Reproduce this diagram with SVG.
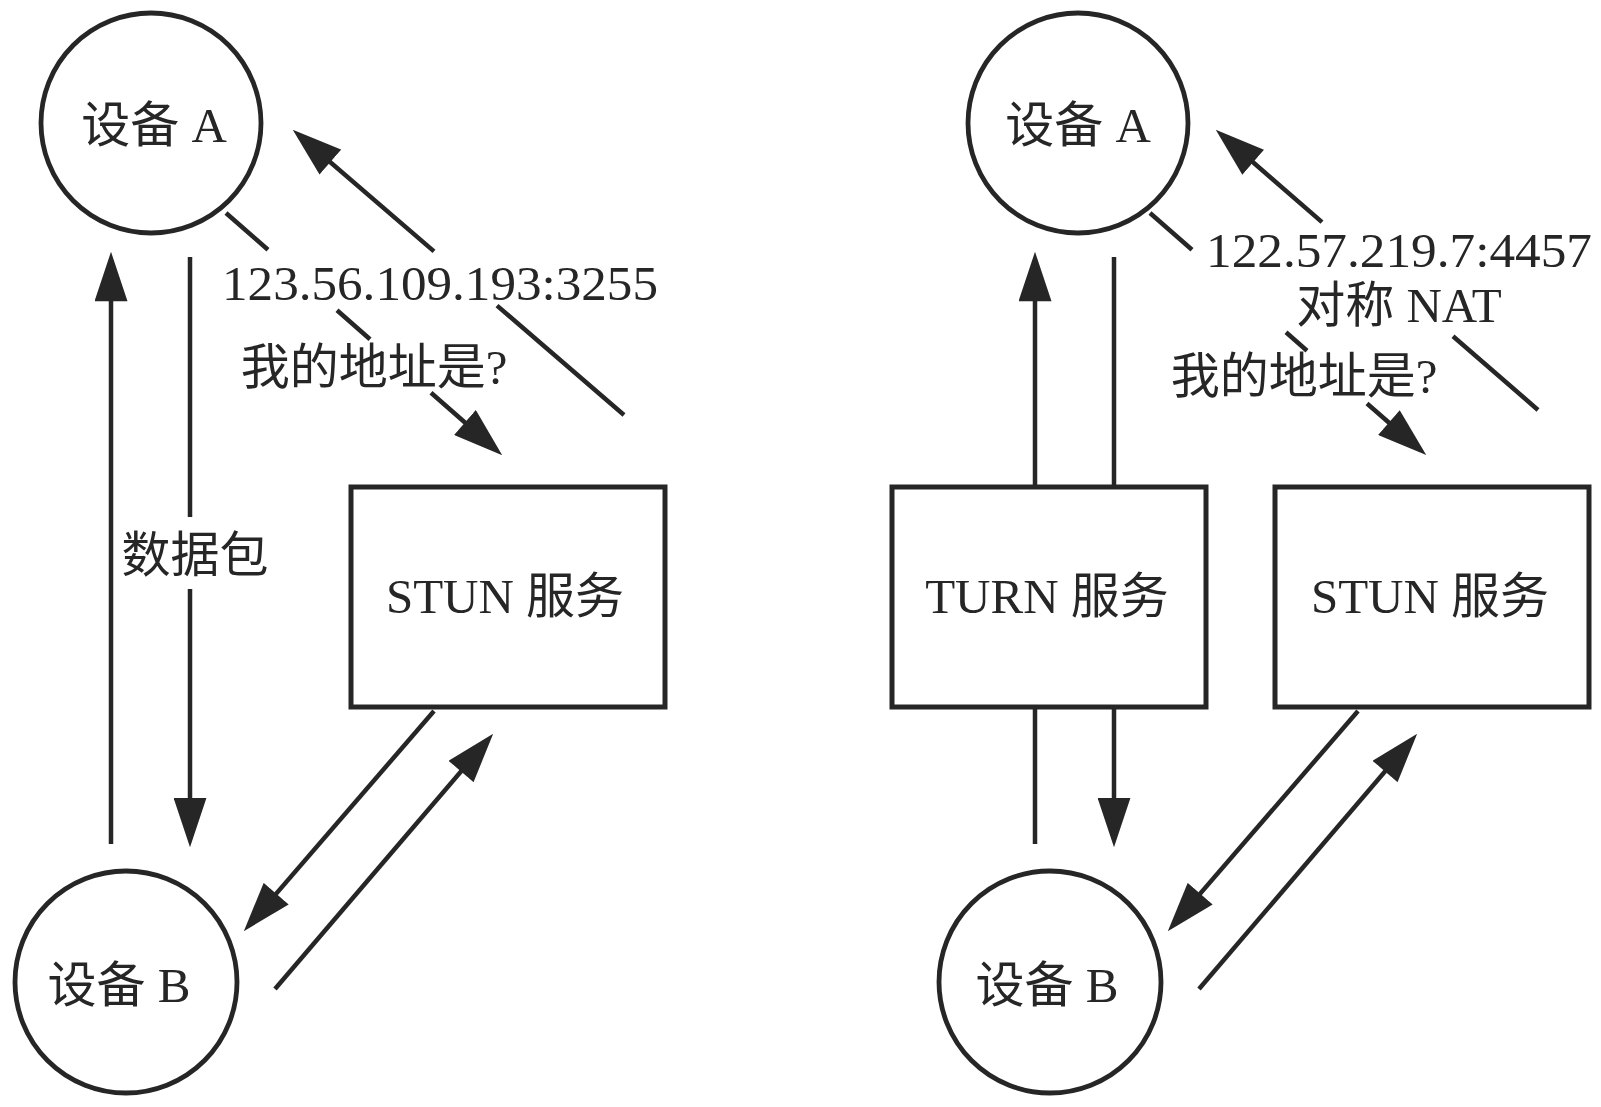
<svg xmlns="http://www.w3.org/2000/svg" width="1601" height="1107" viewBox="0 0 1601 1107">
<style>
.bg{fill:#ffffff}
.node{fill:#ffffff;stroke:#262626;stroke-width:4.8}
.box{fill:#ffffff;stroke:#262626;stroke-width:5}
.conn{fill:none;stroke:#262626;stroke-width:4.5}
.t{font-family:"Liberation Serif","Noto Sans CJK SC",serif;fill:#262626;font-size:49px;text-anchor:middle}
</style>
<defs>
<marker id="ah" markerUnits="userSpaceOnUse" viewBox="0 0 48 32" markerWidth="50" markerHeight="33" refX="40" refY="16" orient="auto">
<path d="M0,0 L48,16 L0,32 z" fill="#262626"/>
</marker>
</defs>
<rect class="bg" x="0" y="0" width="1601" height="1107"/>

<g id="connectors">
<!-- left diagram -->
<path class="conn" d="M111,844 L111,260" marker-end="url(#ah)"/>
<path class="conn" d="M190,257 L190,517 M190,589 L190,839" marker-end="url(#ah)"/>
<path class="conn" d="M226,213 L268,249.8 M337,310.3 L370,339.3 M431,392.8 L496,449.7" marker-end="url(#ah)"/>
<path class="conn" d="M624,415 L497,305.6 M434,251.4 L299,135.2" marker-end="url(#ah)"/>
<path class="conn" d="M434,711 L249.2,924.9" marker-end="url(#ah)"/>
<path class="conn" d="M275,989 L487.8,740.1" marker-end="url(#ah)"/>
<!-- right diagram -->
<path class="conn" d="M1035,844 L1035,707"/>
<path class="conn" d="M1035,487 L1035,260" marker-end="url(#ah)"/>
<path class="conn" d="M1114,257 L1114,487"/>
<path class="conn" d="M1114,707 L1114,839" marker-end="url(#ah)"/>
<path class="conn" d="M1150,213 L1192,249.8 M1286,332.3 L1307,350.7 M1367,403.5 L1420,449.7" marker-end="url(#ah)"/>
<path class="conn" d="M1538,410 L1453,336.2 M1322,222.1 L1222,135.2" marker-end="url(#ah)"/>
<path class="conn" d="M1358,711 L1173.2,924.9" marker-end="url(#ah)"/>
<path class="conn" d="M1199,989 L1411.8,740.1" marker-end="url(#ah)"/>
</g>

<g id="labels">
<text class="t" x="440" y="300" font-size="52" textLength="436" lengthAdjust="spacingAndGlyphs">123.56.109.193:3255</text>
<text class="t" x="374" y="384" font-size="50">我的地址是?</text>
<text class="t" x="195" y="572">数据包</text>
<text class="t" x="1399" y="267" font-size="52" textLength="386" lengthAdjust="spacingAndGlyphs">122.57.219.7:4457</text>
<text class="t" x="1399" y="322">对称 NAT</text>
<text class="t" x="1304" y="393" font-size="50">我的地址是?</text>
</g>

<g id="left-deviceA">
<circle class="node" cx="151" cy="123" r="110"/>
<text class="t" x="154" y="142">设备 A</text>
</g>
<g id="left-deviceB">
<circle class="node" cx="126" cy="982" r="111"/>
<text class="t" x="119" y="1002">设备 B</text>
</g>
<g id="left-stun">
<rect class="box" x="351" y="487" width="314" height="220"/>
<text class="t" x="505" y="613" font-size="50">STUN 服务</text>
</g>

<g id="right-deviceA">
<circle class="node" cx="1078" cy="123" r="110"/>
<text class="t" x="1078" y="142">设备 A</text>
</g>
<g id="right-deviceB">
<circle class="node" cx="1050" cy="982" r="111"/>
<text class="t" x="1047" y="1002">设备 B</text>
</g>
<g id="right-turn">
<rect class="box" x="892" y="487" width="314" height="220"/>
<text class="t" x="1047" y="613" font-size="50">TURN 服务</text>
</g>
<g id="right-stun">
<rect class="box" x="1275" y="487" width="314" height="220"/>
<text class="t" x="1430" y="613" font-size="50">STUN 服务</text>
</g>
</svg>
